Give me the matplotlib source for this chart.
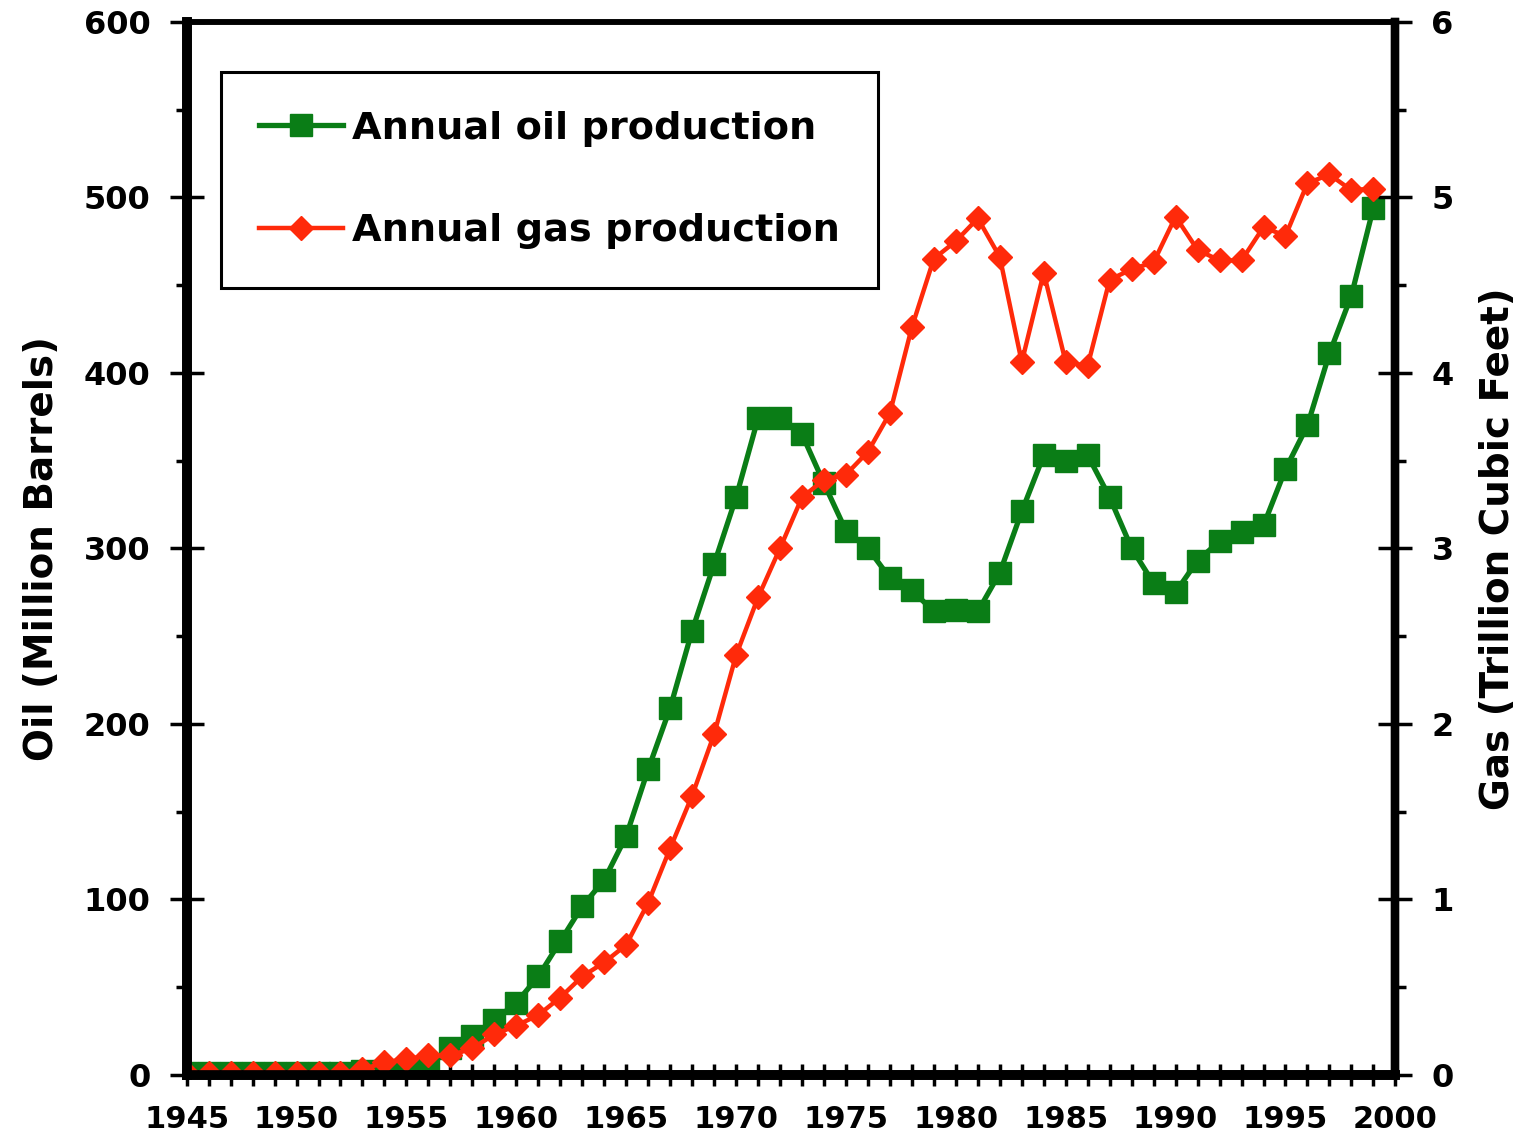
import numpy as np
import matplotlib.pyplot as plt
from matplotlib.ticker import MultipleLocator

years = list(range(1945, 2000))

oil = [1, 1, 1, 1, 1, 1, 1, 1, 2, 2,
       3, 5, 15, 22, 31, 41, 56, 76, 96, 111,
       136, 174, 209, 253, 291, 329, 374, 374, 365, 337,
       310, 300, 283, 276, 264, 265, 264, 286, 321, 353,
       350, 353, 329, 300, 280, 275, 293, 304, 309, 313,
       345, 370, 411, 444, 494]

gas = [0.01, 0.01, 0.01, 0.01, 0.01, 0.01, 0.01, 0.01, 0.03, 0.07,
       0.09, 0.11, 0.11, 0.15, 0.23, 0.28, 0.34, 0.44, 0.56, 0.64,
       0.74, 0.98, 1.29, 1.59, 1.94, 2.39, 2.72, 3.00, 3.29, 3.39,
       3.42, 3.55, 3.77, 4.26, 4.65, 4.75, 4.88, 4.66, 4.06, 4.57,
       4.06, 4.04, 4.53, 4.59, 4.63, 4.89, 4.70, 4.64, 4.64, 4.83,
       4.78, 5.08, 5.13, 5.04, 5.05]

plt.rcParams['font.family'] = ['DejaVu Sans']
plt.rcParams['font.weight'] = 'bold'

green = '#0a7d16'
red = '#ff2a0a'

fig = plt.figure(figsize=(15.3, 11.47), dpi=100)
ax = fig.add_axes([0.122, 0.063, 0.790, 0.918])
ax2 = ax.twinx()

l1, = ax.plot(years, oil, color=green, marker='s', markersize=16, linewidth=3.8,
              label='Annual oil production')
l2, = ax2.plot(years, gas, color=red, marker='D', markersize=12.5, linewidth=3.2,
               label='Annual gas production')

ax.set_xlim(1945, 2000)
ax.set_ylim(0, 600)
ax2.set_ylim(0, 6)

ax.xaxis.set_major_locator(MultipleLocator(5))
ax.xaxis.set_minor_locator(MultipleLocator(1))
ax.yaxis.set_major_locator(MultipleLocator(100))
ax.yaxis.set_minor_locator(MultipleLocator(50))
ax2.yaxis.set_major_locator(MultipleLocator(1))
ax2.yaxis.set_minor_locator(MultipleLocator(0.5))

ax.tick_params(axis='x', which='both', direction='inout', length=16, width=2.5,
               labelsize=22, pad=14)
ax.tick_params(axis='y', which='major', direction='inout', length=24, width=2.5,
               labelsize=23, pad=14)
ax.tick_params(axis='y', which='minor', direction='out', length=8, width=2.5)
ax2.tick_params(axis='y', which='major', direction='inout', length=24, width=2.5,
                labelsize=23, pad=14)
ax2.tick_params(axis='y', which='minor', direction='out', length=8, width=2.5)

for a in (ax, ax2):
    a.spines['left'].set_linewidth(7)
    a.spines['bottom'].set_linewidth(7)
    a.spines['right'].set_linewidth(6)
    a.spines['top'].set_linewidth(4)

ax.set_ylabel('Oil (Million Barrels)', fontsize=28, fontweight='bold', labelpad=16)
ax2.set_ylabel('Gas (Trillion Cubic Feet)', fontsize=28, fontweight='bold',
               rotation=90, labelpad=18)

leg = ax2.legend(handles=[l1, l2], loc='upper left',
                 bbox_to_anchor=(0.028, 0.952), fontsize=27.5, frameon=True,
                 fancybox=False, borderpad=1.0, labelspacing=1.75,
                 handlelength=2.2, handletextpad=0.25, borderaxespad=0)
leg.get_frame().set_edgecolor('black')
leg.get_frame().set_linewidth(2.2)
leg.get_frame().set_alpha(1)
for t in leg.get_texts():
    t.set_fontweight('bold')

fig.savefig('out.png', dpi=100)
